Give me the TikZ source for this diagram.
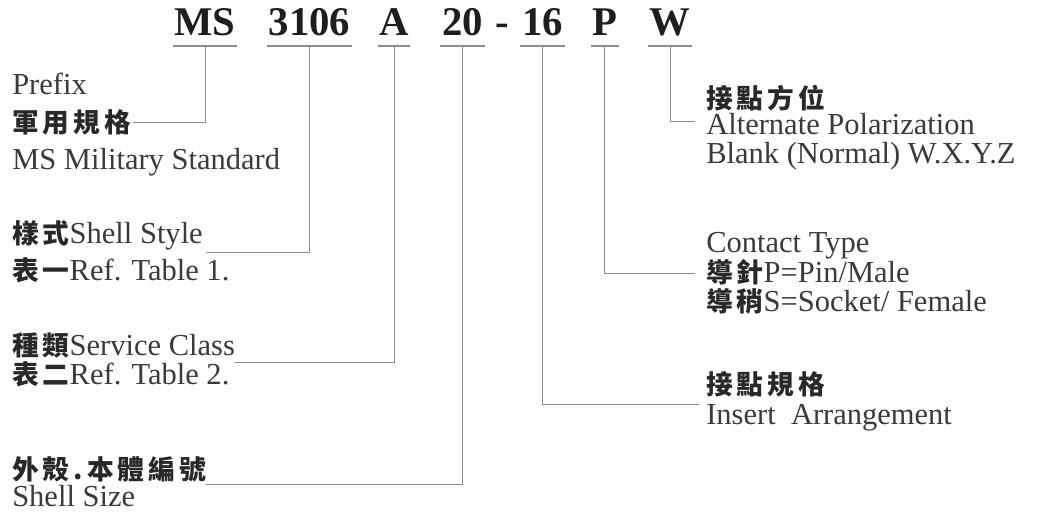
\documentclass[tikz,border=0pt]{standalone}
\usepackage{fontspec}
\setmainfont{Liberation Serif}
\newfontfamily\cjk{Noto Sans CJK TC}[LetterSpace=15]
\definecolor{inkcode}{RGB}{30,30,30}
\definecolor{inklabel}{RGB}{58,58,58}
\definecolor{inkzh}{RGB}{40,40,40}
\definecolor{inkline}{RGB}{140,140,140}
\newcommand{\zh}[1]{{\cjk\fontsize{19}{22}\selectfont\bfseries\color{inkzh}#1}}
\tikzset{
  codetok/.style={anchor=base, inner xsep=1pt, inner ysep=0.25cm, text depth=0pt,
    text=inkcode, font=\fontsize{29}{32}\selectfont\bfseries},
  lbl/.style={anchor=base west, inner sep=0pt, text=inklabel,
    font=\fontsize{21.7}{24}\selectfont},
  ulline/.style={draw=inkline, line width=0.04cm},
  conn/.style={draw=inkline, line width=0.025cm},
}
\begin{document}
\begin{tikzpicture}
                        \useasboundingbox (0,0) rectangle (26.025000,12.850000);

                        % Marking code MS 3106 A 20 - 16 P W
                        \node [codetok] (ms) at (5.125000,11.950000) {MS};%
                        \node [codetok] (t3106) at (7.737500,11.950000) {3106};%
                        \node [codetok] (a) at (9.850000,11.950000) {A};%
                        \node [codetok] (n20) at (11.562500,11.950000) {20};%
                        \node [codetok] (dash) at (12.550000,11.950000) {-};%
                        \node [codetok] (n16) at (13.562500,11.950000) {16};%
                        \node [codetok] (p) at (15.120000,11.950000) {P};%
                        \node [codetok] (w) at (16.750000,11.950000) {W};%

                        % Underlining the code parts
                        \draw [ulline] (ms.south west) -- (ms.south east);%
                        \draw [ulline] (t3106.south west) -- (t3106.south east);%
                        \draw [ulline] (a.south west) -- (a.south east);%
                        \draw [ulline] (n20.south west) -- (n20.south east);%
                        \draw [ulline] (n16.south west) -- (n16.south east);%
                        \draw [ulline] (p.south west) -- (p.south east);%
                        \draw [ulline] (w.south west) -- (w.south east);%

                        % Marking left labels
                        \node [lbl] (prefix) at (0.300000,10.475000) {Prefix};%
                        \node [lbl] (milcn) at (0.300000,9.525000) {\zh{軍用規格}};%
                        \node [lbl] (milstd) at (0.300000,8.600000) {MS Military Standard};%
                        \node [lbl] (style) at (0.300000,6.750000) {\zh{樣式}Shell Style};%
                        \node [lbl] (table1) at (0.300000,5.825000) {\zh{表一}Ref. Table 1.};%
                        \node [lbl] (service) at (0.300000,3.950000) {\zh{種類}Service Class};%
                        \node [lbl] (table2) at (0.300000,3.225000) {\zh{表二}Ref. Table 2.};%
                        \node [lbl] (sizecn) at (0.300000,0.850000) {\zh{外殼.本體編號}};%
                        \node [lbl] (shellsize) at (0.300000,0.175000) {Shell Size};%

                        % Marking right labels
                        \node [lbl] (poscn) at (17.650000,10.125000) {\zh{接點方位}};%
                        \node [lbl] (altpol) at (17.650000,9.475000) {Alternate Polarization};%
                        \node [lbl] (blank) at (17.650000,8.750000) {Blank (Normal) W.X.Y.Z};%
                        \node [lbl] (contact) at (17.650000,6.525000) {Contact Type};%
                        \node [lbl] (pin) at (17.650000,5.775000) {\zh{導針}P=Pin/Male};%
                        \node [lbl] (socket) at (17.650000,5.050000) {\zh{導稍}S=Socket/ Female};%
                        \node [lbl] (arrcn) at (17.650000,2.975000) {\zh{接點規格}};%
                        \node [lbl] (insert) at (17.650000,2.225000) {Insert\ \ Arrangement};%

                        % Drawing line MS
                        \draw [conn] (ms.south) |- ([shift={(0.050000,0.250000)}]milcn.base east);%

                        % Drawing line 3106
                        \draw [conn] (t3106.south) |- ([shift={(0.075000,-0.225000)}]style.base east);%

                        % Drawing line A
                        \draw [conn] (a.south) |- ([shift={(0.000000,-0.175000)}]service.base east);%

                        % Drawing line 20
                        \draw [conn] (n20.south) |- ([shift={(0.000000,-0.125000)}]sizecn.base east);%

                        % Drawing line 16
                        \draw [conn] (n16.south) |- ([shift={(-0.175000,-0.250000)}]arrcn.base west);%

                        % Drawing line P
                        \draw [conn] (p.south) |- ([shift={(-0.275000,0.225000)}]pin.base west);%

                        % Drawing line W
                        \draw [conn] (w.south) |- ([shift={(-0.275000,0.325000)}]altpol.base west);%
                    \end{tikzpicture}
\end{document}
